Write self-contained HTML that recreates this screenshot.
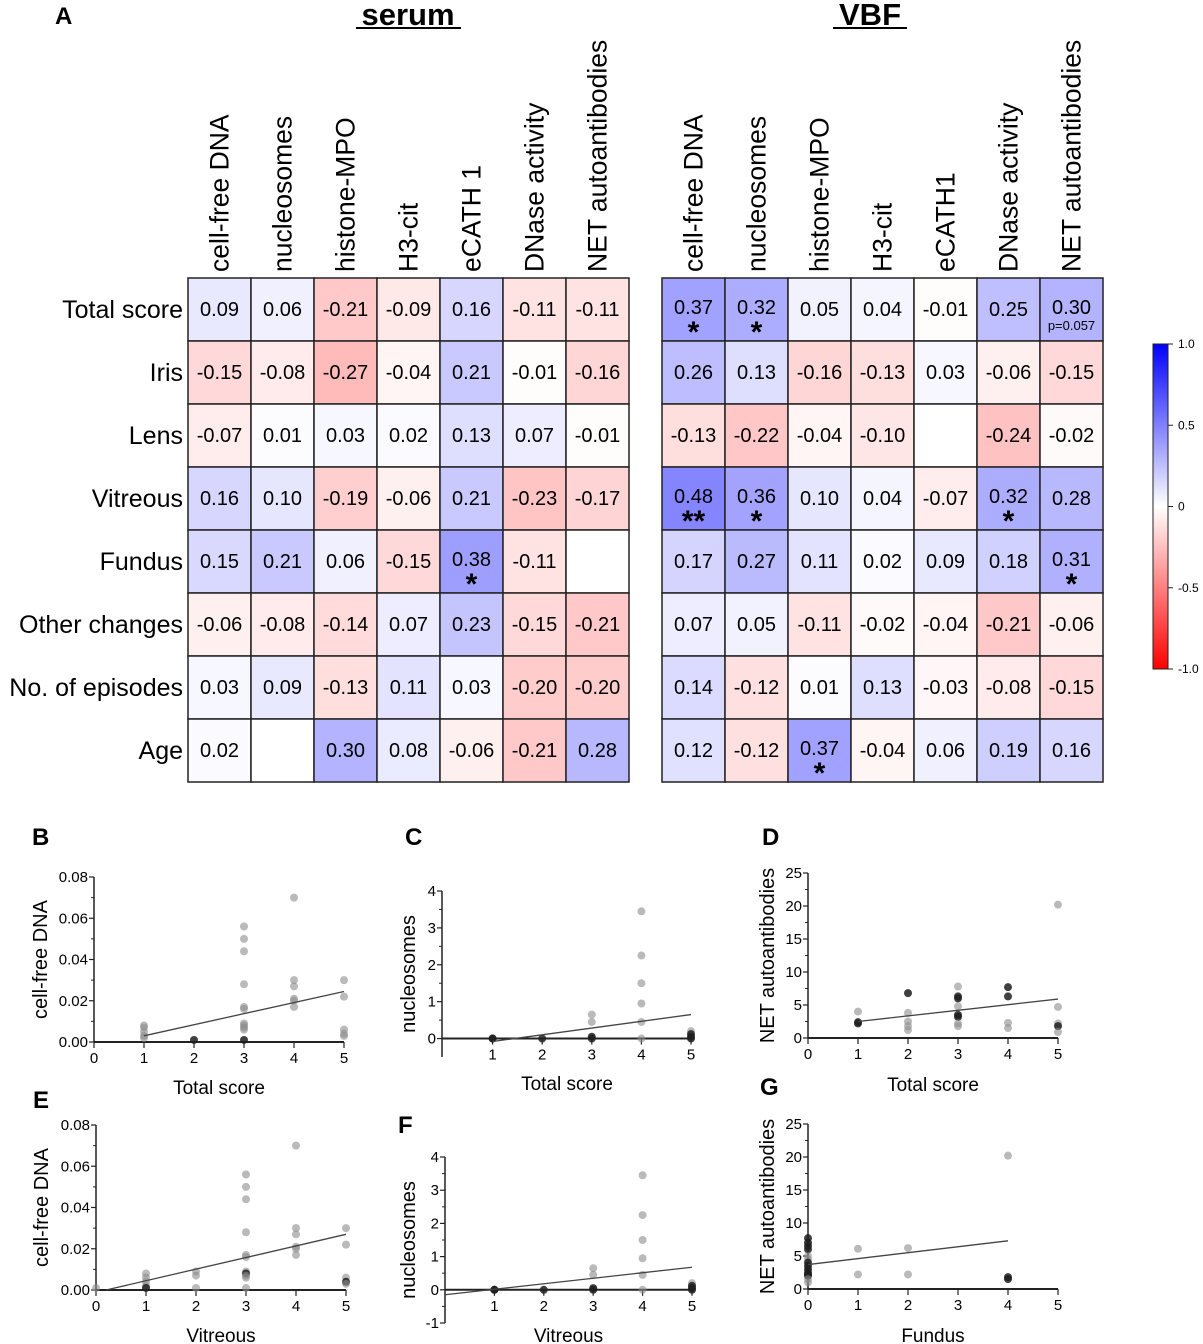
<!DOCTYPE html>
<html><head><meta charset="utf-8"><style>
body{margin:0;background:#fff}
svg{display:block;font-family:"Liberation Sans",Arial,sans-serif}
</style></head><body>
<svg id="fig" width="1203" height="1344" viewBox="0 0 1203 1344" xmlns="http://www.w3.org/2000/svg">
<text x="55" y="24" font-size="24" font-weight="bold">A</text>
<text x="408" y="25" font-size="31" font-weight="bold" text-anchor="middle">serum</text>
<line x1="356" y1="28" x2="461" y2="28" stroke="#000" stroke-width="2"/>
<text x="870" y="25" font-size="31" font-weight="bold" text-anchor="middle">VBF</text>
<line x1="833" y1="28" x2="907" y2="28" stroke="#000" stroke-width="2"/>
<g id="heat"></g>
<g id="cbar"></g>
<g id="scat"></g>
</svg>
<script>
const NS="http://www.w3.org/2000/svg";
const rows=["Total score","Iris","Lens","Vitreous","Fundus","Other changes","No. of episodes","Age"];
const serumCols=["cell-free DNA","nucleosomes","histone-MPO","H3-cit","eCATH 1","DNase activity","NET autoantibodies"];
const vbfCols=["cell-free DNA","nucleosomes","histone-MPO","H3-cit","eCATH1","DNase activity","NET autoantibodies"];
const serumVals=[
[0.09,0.06,-0.21,-0.09,0.16,-0.11,-0.11],
[-0.15,-0.08,-0.27,-0.04,0.21,-0.01,-0.16],
[-0.07,0.01,0.03,0.02,0.13,0.07,-0.01],
[0.16,0.10,-0.19,-0.06,0.21,-0.23,-0.17],
[0.15,0.21,0.06,-0.15,0.38,-0.11,null],
[-0.06,-0.08,-0.14,0.07,0.23,-0.15,-0.21],
[0.03,0.09,-0.13,0.11,0.03,-0.20,-0.20],
[0.02,null,0.30,0.08,-0.06,-0.21,0.28]];
const serumSig=[["","","","","","",""],["","","","","","",""],["","","","","","",""],["","","","","","",""],["","","","","*","",""],["","","","","","",""],["","","","","","",""],["","","","","","",""]];
const vbfVals=[
[0.37,0.32,0.05,0.04,-0.01,0.25,0.30],
[0.26,0.13,-0.16,-0.13,0.03,-0.06,-0.15],
[-0.13,-0.22,-0.04,-0.10,null,-0.24,-0.02],
[0.48,0.36,0.10,0.04,-0.07,0.32,0.28],
[0.17,0.27,0.11,0.02,0.09,0.18,0.31],
[0.07,0.05,-0.11,-0.02,-0.04,-0.21,-0.06],
[0.14,-0.12,0.01,0.13,-0.03,-0.08,-0.15],
[0.12,-0.12,0.37,-0.04,0.06,0.19,0.16]];
const vbfSig=[["*","*","","","","","p=0.057"],["","","","","","",""],["","","","","","",""],["**","*","","","","*",""],["","","","","","","*"],["","","","","","",""],["","","","","","",""],["","","*","","","",""]];
const cbarTicks=[1.0,0.5,0,-0.5,-1.0];
const cbarLabels=["1.0","0.5","0","-0.5","-1.0"];

function el(tag,attrs,parent,text){const e=document.createElementNS(NS,tag);for(const k in attrs)e.setAttribute(k,attrs[k]);if(text!==undefined)e.textContent=text;parent.appendChild(e);return e;}
function color(r){const t=Math.min(1,Math.abs(r));const v=Math.round(255*(1-t));return r>=0?`rgb(${v},${v},255)`:`rgb(255,${v},${v})`;}
const heat=document.getElementById('heat');
const CW=63,RH=63,TOP=278;
function drawHeat(x0,cols,vals,sig,prefix){
  cols.forEach((c,j)=>{
    const cx=x0+j*CW+CW/2+9;
    const t=el('text',{x:0,y:0,'font-size':26.5,transform:`translate(${cx},272) rotate(-90)`},heat,c);
    
    
  });
  vals.forEach((row,i)=>{row.forEach((v,j)=>{
    const x=x0+j*CW,y=TOP+i*RH;
    const r=el('rect',{x:x,y:y,width:CW,height:RH,fill:v===null?'#fff':color(v),stroke:'#222','stroke-width':1.5},heat);
    
    
    if(v!==null){
      const s=sig[i][j];
      const ty=s?y+36:y+38;
      const t=el('text',{x:x+CW/2,y:ty,'font-size':20,'text-anchor':'middle'},heat,v.toFixed(2));
      
      
      if(s){
        const isP=s.startsWith('p');
        const st=el('text',{x:x+CW/2,y:isP?y+52:y+64,'font-size':isP?13:30,'font-weight':isP?'normal':'bold','text-anchor':'middle'},heat,s);
        
        
      }
    }
  });});
}
drawHeat(188,serumCols,serumVals,serumSig,'serum');
drawHeat(662,vbfCols,vbfVals,vbfSig,'vbf');
rows.forEach((r,i)=>{
  const t=el('text',{x:183,y:TOP+i*RH+40,'font-size':25,'text-anchor':'end'},heat,r);
  
  
});
const cb=document.getElementById('cbar');
const defs=el('defs',{},cb);
const g=el('linearGradient',{id:'cg',x1:0,y1:0,x2:0,y2:1},defs);
el('stop',{offset:'0','stop-color':'#0000ff'},g);el('stop',{offset:'0.5','stop-color':'#ffffff'},g);el('stop',{offset:'1','stop-color':'#ff0000'},g);
const CBT=344,CBB=669;
const cbr=el('rect',{x:1153,y:CBT,width:15,height:CBB-CBT,fill:'url(#cg)',stroke:'#222','stroke-width':1},cb);


cbarTicks.forEach((v,k)=>{
  const y=CBT+(1-v)/2*(CBB-CBT);
  el('line',{x1:1168,x2:1173,y1:y,y2:y,stroke:'#222'},cb);
  const t=el('text',{x:1178,y:y+4,'font-size':12},cb,cbarLabels[k]);
  
  
});

const bX=[1,1,1,1,1,2,3,3,3,3,3,3,3,3,3,3,3,4,4,4,4,4,4,5,5,5,5,5];
const bY=[0.008,0.007,0.005,0.003,0.002,0.001,0.056,0.050,0.044,0.028,0.017,0.016,0.009,0.008,0.007,0.006,0.001,0.070,0.030,0.027,0.021,0.020,0.017,0.030,0.022,0.006,0.004,0.003];
const bDark=[0,0,0,0,0,1,0,0,0,0,0,0,0,0,0,0,1,0,0,0,0,0,0,0,0,0,0,0];
const bFit=[1,0.003,5,0.0245];
const cX=[1,1,2,3,3,3,3,4,4,4,4,4,4,5,5,5,5];
const cY=[0,0,0,0.65,0.45,0.05,0,3.45,2.25,1.5,0.95,0.45,0,0.2,0.12,0.05,0];
const cDark=[1,1,1,0,0,1,1,0,0,0,0,0,0,0,1,1,1];
const cFit=[1,-0.08,5,0.65];
const dX=[1,1,1,2,2,2,2,2,3,3,3,3,3,3,3,3,4,4,4,4,5,5,5,5,5];
const dY=[4.0,2.4,2.2,6.8,3.8,2.5,1.8,1.2,7.8,6.3,6.0,4.8,3.5,3.2,2.2,1.8,7.7,6.3,2.3,1.5,20.2,4.7,2.2,1.8,0.9];
const dDark=[0,1,1,1,0,0,0,0,0,1,1,0,1,1,0,0,1,1,0,0,0,0,0,1,0];
const dFit=[1,2.5,5,5.9];
const eX=[0,1,1,1,1,1,2,2,2,3,3,3,3,3,3,3,3,3,3,3,4,4,4,4,4,4,5,5,5,5,5];
const eY=[0.001,0.008,0.006,0.004,0.002,0.001,0.009,0.007,0.001,0.056,0.050,0.044,0.028,0.017,0.016,0.009,0.008,0.007,0.006,0.001,0.070,0.030,0.027,0.021,0.020,0.017,0.030,0.022,0.006,0.004,0.003];
const eDark=[0,0,0,0,0,1,0,0,0,0,0,0,0,0,0,0,1,0,0,0,0,0,0,0,0,0,0,0,0,1,0];
const eFit=[0.2,0,5,0.027];
const fX=[1,1,2,3,3,3,3,4,4,4,4,4,4,5,5,5,5];
const fY=[0,0,0,0.65,0.45,0.05,0,3.45,2.25,1.5,0.95,0.45,0,0.2,0.12,0.05,0];
const fDark=[1,1,1,0,0,1,1,0,0,0,0,0,0,0,1,1,1];
const fFit=[0,-0.15,5,0.68];
const gX=[0,0,0,0,0,0,0,0,0,0,0,0,0,0,1,1,2,2,4,4,4];
const gY=[7.7,7.0,6.5,6.0,5.0,4.5,4.0,3.5,3.0,2.5,2.2,2.0,1.5,1.0,6.1,2.2,6.2,2.2,20.2,1.8,1.5];
const gDark=[1,1,1,1,0,0,1,1,1,1,1,1,0,0,0,0,0,0,0,1,1];
const gFit=[0,3.7,4,7.3];

const sc=document.getElementById('scat');
function plot(p){
  const gr=el('g',{},sc);
  
  
  const sx=v=>p.x0+(v-0)*(p.x5-p.x0)/5;
  const sy=v=>p.yb+(v-p.ymin)*(p.yt-p.yb)/(p.ymax-p.ymin);
  const L=el('text',{x:p.lx,y:p.ly,'font-size':24,'font-weight':'bold'},gr,p.label);
  
  
  el('line',{x1:p.ax,x2:p.ax,y1:sy(p.ymin),y2:sy(p.ymax),stroke:'#222','stroke-width':1.5},gr);
  p.yticks.forEach((v,k)=>{
    const y=sy(v);
    el('line',{x1:p.ax-5,x2:p.ax,y1:y,y2:y,stroke:'#222','stroke-width':1.2},gr);
    if(k<p.yticks.length-1){const ym=sy((v+p.yticks[k+1])/2);el('line',{x1:p.ax-3,x2:p.ax,y1:ym,y2:ym,stroke:'#222'},gr);}
    const t=el('text',{x:p.ax-6,y:y+5,'font-size':15,'text-anchor':'end'},gr,p.ylab[k]);
    
    
  });
  const y0=sy(0);
  el('line',{x1:p.ax,x2:sx(5),y1:y0,y2:y0,stroke:'#222','stroke-width':2},gr);
  p.xticks.forEach(v=>{
    const x=sx(v);
    el('line',{x1:x,x2:x,y1:y0,y2:y0+6,stroke:'#222','stroke-width':1.2},gr);
    const t=el('text',{x:x,y:y0+21,'font-size':15,'text-anchor':'middle'},gr,String(v));
    
    
  });
  const xt=el('text',{x:(p.x0+sx(5))/2,y:p.xty,'font-size':19,'text-anchor':'middle'},gr,p.xtitle);
  
  
  const yt=el('text',{x:0,y:0,'font-size':20,'text-anchor':'middle',transform:`translate(${p.ytx},${(sy(p.ymin)+sy(p.ymax))/2+p.ytdy}) rotate(-90)`},gr,p.ytitle);
  
  
  p.X.forEach((xv,i)=>{
    const c=el('circle',{cx:sx(xv),cy:sy(p.Y[i]),r:4,fill:p.D[i]?'rgba(30,30,30,0.85)':'rgba(140,140,140,0.6)'},gr);
    
    
  });
  const f=p.F;
  const ln=el('line',{x1:sx(f[0]),y1:sy(f[1]),x2:sx(f[2]),y2:sy(f[3]),stroke:'#444','stroke-width':1.3},gr);
  
  
}
plot({label:'B',lx:32,ly:845,x0:94,x5:344,ax:94,yb:1042,yt:877,ymin:0,ymax:0.08,yticks:[0,0.02,0.04,0.06,0.08],ylab:['0.00','0.02','0.04','0.06','0.08'],xticks:[0,1,2,3,4,5],xtitle:'Total score',xty:1094,ytitle:'cell-free DNA',ytx:47,ytdy:0,X:bX,Y:bY,D:bDark,F:bFit});
plot({label:'C',lx:405,ly:845,x0:443,x5:691,ax:442,yb:1057,yt:891,ymin:-0.5,ymax:4,yticks:[0,1,2,3,4],ylab:['0','1','2','3','4'],xticks:[1,2,3,4,5],xtitle:'Total score',xty:1090,ytitle:'nucleosomes',ytx:415,ytdy:0,X:cX,Y:cY,D:cDark,F:cFit});
plot({label:'D',lx:762,ly:845,x0:808,x5:1058,ax:808,yb:1038,yt:873,ymin:0,ymax:25,yticks:[0,5,10,15,20,25],ylab:['0','5','10','15','20','25'],xticks:[0,1,2,3,4,5],xtitle:'Total score',xty:1091,ytitle:'NET autoantibodies',ytx:774,ytdy:0,X:dX,Y:dY,D:dDark,F:dFit});
plot({label:'E',lx:33,ly:1108,x0:96,x5:346,ax:96,yb:1290,yt:1125,ymin:0,ymax:0.08,yticks:[0,0.02,0.04,0.06,0.08],ylab:['0.00','0.02','0.04','0.06','0.08'],xticks:[0,1,2,3,4,5],xtitle:'Vitreous',xty:1342,ytitle:'cell-free DNA',ytx:48,ytdy:0,X:eX,Y:eY,D:eDark,F:eFit});
plot({label:'F',lx:398,ly:1133,x0:445,x5:692,ax:445,yb:1323,yt:1157,ymin:-1,ymax:4,yticks:[-1,0,1,2,3,4],ylab:['-1','0','1','2','3','4'],xticks:[1,2,3,4,5],xtitle:'Vitreous',xty:1342,ytitle:'nucleosomes',ytx:415,ytdy:0,X:fX,Y:fY,D:fDark,F:fFit});
plot({label:'G',lx:760,ly:1095,x0:808,x5:1058,ax:808,yb:1289,yt:1124,ymin:0,ymax:25,yticks:[0,5,10,15,20,25],ylab:['0','5','10','15','20','25'],xticks:[0,1,2,3,4,5],xtitle:'Fundus',xty:1342,ytitle:'NET autoantibodies',ytx:774,ytdy:0,X:gX,Y:gY,D:gDark,F:gFit});
</script>
</body></html>
